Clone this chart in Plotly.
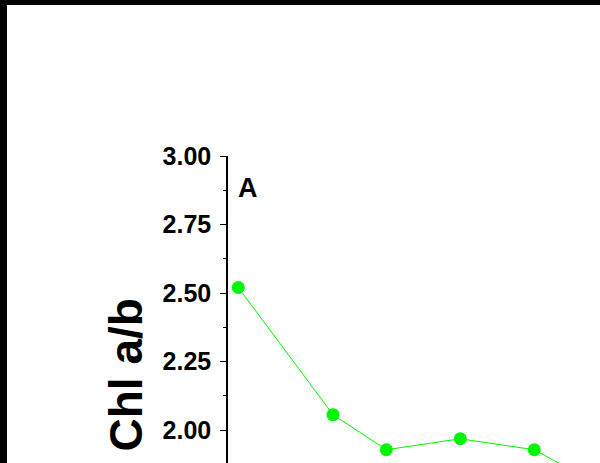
import plotly.graph_objects as go

# Chl a/b ratio series (panel A)
time_points = [0, 1.28, 2, 3, 4, 5]
chl_ab = [2.52, 2.056, 1.928, 1.968, 1.928, 1.78]
y_ticks = [2.00, 2.25, 2.50, 2.75, 3.00]
y_label = "Chl a/b"
panel_label = "A"

W, H = 600, 463
ML, MR, MT, MB = 228, 0, 156, 0
PW, PH = W - ML - MR, H - MT - MB


def px_x(px):
    return (px - ML) / PW


def px_y(py):
    return (H - MB - py) / PH


FONT = "Liberation Sans, Arial, sans-serif"
GREEN = "#00f500"

fig = go.Figure()
fig.add_trace(go.Scatter(
    x=time_points, y=chl_ab, mode="lines+markers",
    line=dict(color=GREEN, width=1),
    marker=dict(color=GREEN, size=13),
    showlegend=False,
))

fig.update_layout(
    width=W, height=H,
    margin=dict(l=ML, r=MR, t=MT, b=MB, pad=0),
    paper_bgcolor="white", plot_bgcolor="white",
    xaxis=dict(range=[-0.139, -0.139 + PW / 74.0], visible=False, showgrid=False),
    yaxis=dict(
        range=[3.0 - PH / 274.0, 3.0],
        tickvals=y_ticks, tickformat=".2f",
        ticks="outside", ticklen=6, tickwidth=1.2, tickcolor="black",
        showline=True, linecolor="black", linewidth=1.5,
        showgrid=False, zeroline=False,
        tickfont=dict(family=FONT, size=25, color="black", weight="bold"),
        ticklabelstandoff=4,
        minor=dict(dtick=0.125, tick0=0, ticks="outside", ticklen=3,
                   tickcolor="black", tickwidth=1.2, showgrid=False),
    ),
    annotations=[
        dict(text=y_label, textangle=-90, xref="paper", yref="paper",
             x=px_x(125.5), y=px_y(375), showarrow=False,
             xanchor="center", yanchor="middle",
             font=dict(family=FONT, size=46, color="black", weight="bold")),
        dict(text=panel_label, xref="paper", yref="paper",
             x=px_x(248), y=px_y(188), showarrow=False,
             xanchor="center", yanchor="middle",
             font=dict(family=FONT, size=27, color="black", weight="bold")),
    ],
    shapes=[
        dict(type="rect", xref="paper", yref="paper", layer="above",
             x0=px_x(-2), x1=px_x(7), y0=px_y(H + 2), y1=px_y(-2),
             fillcolor="black", line=dict(width=0)),
        dict(type="rect", xref="paper", yref="paper", layer="above",
             x0=px_x(-2), x1=px_x(W + 2), y0=px_y(5), y1=px_y(-2),
             fillcolor="black", line=dict(width=0)),
    ],
)

fig.write_html("out.html")
